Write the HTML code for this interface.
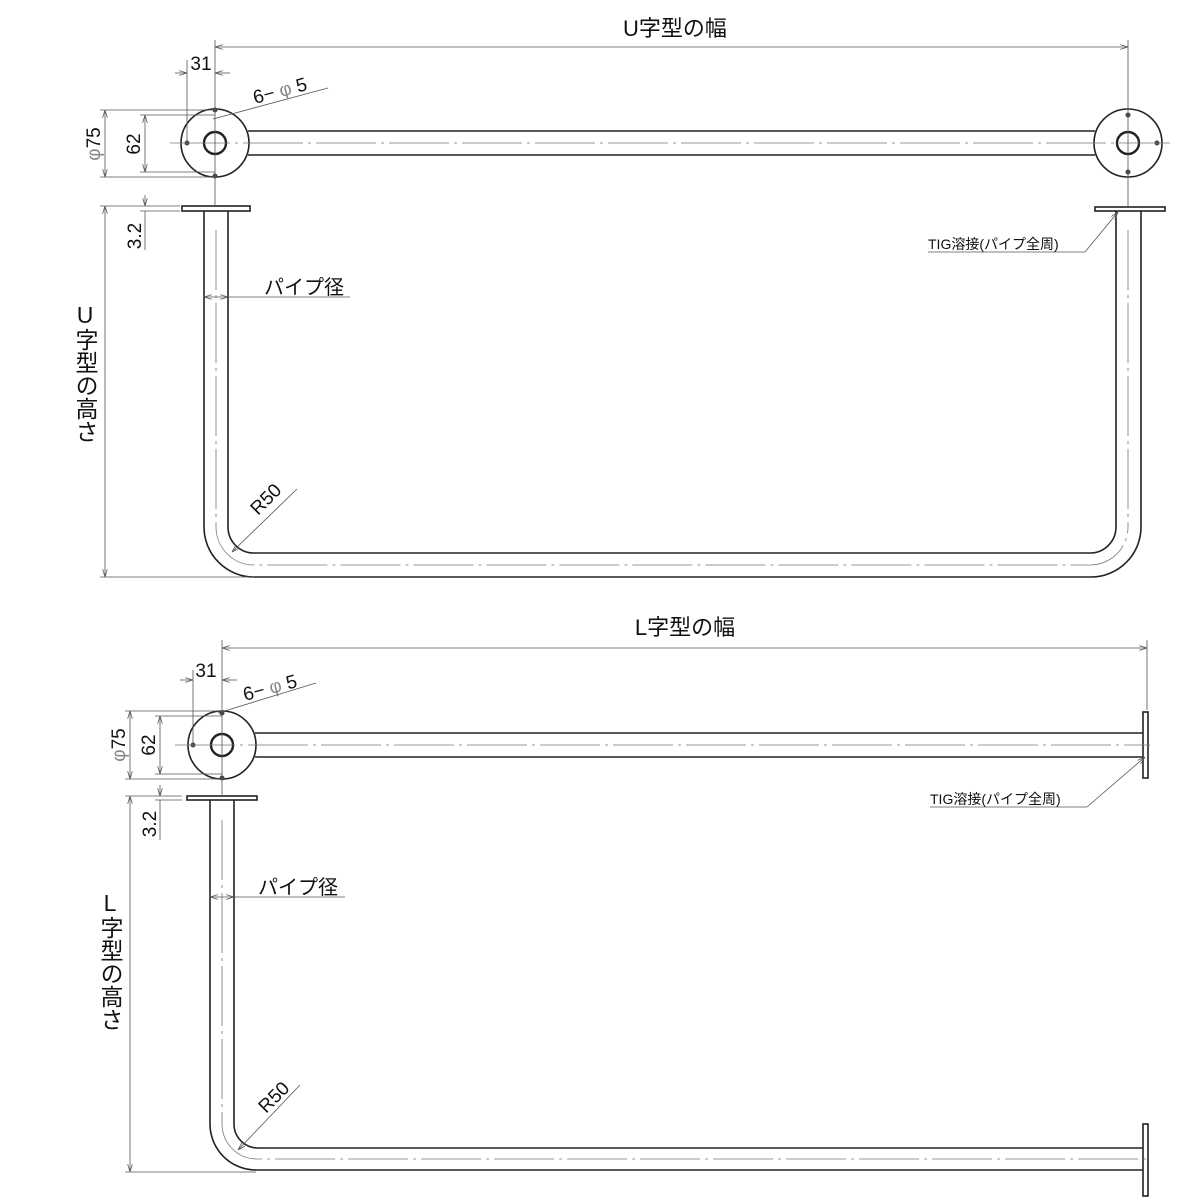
<!DOCTYPE html>
<html><head><meta charset="utf-8"><style>
body{margin:0;background:#fff}
svg{display:block}
text{font-family:"Liberation Sans","Noto Sans CJK JP",sans-serif;fill:#111}
</style></head><body>
<svg width="1200" height="1200" viewBox="0 0 1200 1200" xmlns="http://www.w3.org/2000/svg">
<defs>
<marker id="a" viewBox="0 0 10 6" refX="10" refY="3" markerWidth="10" markerHeight="6" orient="auto-start-reverse"><path d="M0,0 L10,3 L0,6" fill="none" stroke="#555" stroke-width="1"/></marker>
</defs>
<g fill="none" stroke="#222" stroke-width="1.6">
<circle cx="215" cy="143" r="34"/><circle cx="215" cy="143" r="11" stroke-width="2.4"/>
<circle cx="1128" cy="143" r="34"/><circle cx="1128" cy="143" r="11" stroke-width="2.4"/>
<line x1="248" y1="131" x2="1095" y2="131"/><line x1="248" y1="155" x2="1095" y2="155"/>
<rect x="182" y="206" width="68" height="5"/>
<rect x="1095" y="207" width="70" height="4"/>
<path d="M204 211 V527 A50 50 0 0 0 254 577 H1091 A50 50 0 0 0 1141 527 V211"/>
<path d="M228 211 V527 A26 26 0 0 0 254 553 H1091 A26 26 0 0 0 1116 527 V211"/>
<circle cx="222" cy="745" r="34"/><circle cx="222" cy="745" r="11" stroke-width="2.4"/>
<line x1="255" y1="733" x2="1143" y2="733"/><line x1="255" y1="757" x2="1143" y2="757"/>
<rect x="1143" y="712" width="5" height="66"/>
<rect x="187" y="796" width="70" height="4"/>
<path d="M210 800 V1124 A46 46 0 0 0 256 1170 H1143"/>
<path d="M234 800 V1124 A24 24 0 0 0 258 1148 H1143"/>
<rect x="1143" y="1124" width="5" height="72"/>
</g>
<g fill="#444">
<circle cx="215" cy="110" r="2.5"/><circle cx="215" cy="176" r="2.5"/><circle cx="187" cy="143" r="2.5"/>
<circle cx="1128" cy="115" r="2.5"/><circle cx="1128" cy="172" r="2.5"/><circle cx="1157" cy="143" r="2.5"/>
<circle cx="222" cy="713" r="2.5"/><circle cx="222" cy="778" r="2.5"/><circle cx="193" cy="745" r="2.5"/>
</g>
<g stroke="#777" stroke-width="0.8" fill="none" stroke-dasharray="60,5,3,5">
<line x1="170" y1="143" x2="1170" y2="143"/>
<line x1="216" y1="230" x2="216" y2="527"/><line x1="1128" y1="230" x2="1128" y2="527"/>
<path d="M216 527 A38 38 0 0 0 254 565 H1091 A38 38 0 0 0 1128 527"/>
<line x1="175" y1="745" x2="1150" y2="745"/>
<line x1="222" y1="820" x2="222" y2="1124"/>
<path d="M222 1124 A35 35 0 0 0 257 1159 H1150"/>
</g>
<g stroke="#555" stroke-width="0.8" fill="none">
<line x1="215" y1="40" x2="215" y2="206"/><line x1="1128" y1="40" x2="1128" y2="206"/>
<line x1="222" y1="640" x2="222" y2="796"/><line x1="1147" y1="640" x2="1147" y2="710"/>
<line x1="215" y1="47" x2="1128" y2="47" marker-start="url(#a)" marker-end="url(#a)"/>
<line x1="187" y1="60" x2="187" y2="143"/>
<line x1="175" y1="73" x2="187" y2="73" marker-end="url(#a)"/><line x1="215" y1="73" x2="230" y2="73" marker-start="url(#a)"/>
<line x1="213" y1="119" x2="328" y2="88"/>
<line x1="100" y1="110" x2="215" y2="110"/><line x1="100" y1="177" x2="215" y2="177"/>
<line x1="105" y1="110" x2="105" y2="177" marker-start="url(#a)" marker-end="url(#a)"/>
<line x1="140" y1="115" x2="215" y2="115"/><line x1="140" y1="172" x2="215" y2="172"/>
<line x1="145" y1="115" x2="145" y2="172" marker-start="url(#a)" marker-end="url(#a)"/>
<line x1="100" y1="206" x2="180" y2="206"/><line x1="140" y1="211" x2="180" y2="211"/>
<line x1="145" y1="195" x2="145" y2="206" marker-end="url(#a)"/><line x1="145" y1="211" x2="145" y2="250"/>
<line x1="100" y1="577" x2="254" y2="577"/>
<line x1="105" y1="206" x2="105" y2="577" marker-start="url(#a)" marker-end="url(#a)"/>
<line x1="204" y1="297" x2="228" y2="297" marker-start="url(#a)" marker-end="url(#a)"/><line x1="228" y1="297" x2="350" y2="297"/>
<line x1="232" y1="552" x2="297" y2="489" marker-start="url(#a)"/>
<line x1="928" y1="252" x2="1085" y2="252"/><line x1="1085" y1="252" x2="1118" y2="212" marker-end="url(#a)"/>
<line x1="222" y1="648" x2="1147" y2="648" marker-start="url(#a)" marker-end="url(#a)"/>
<line x1="193" y1="670" x2="193" y2="745"/>
<line x1="180" y1="680" x2="193" y2="680" marker-end="url(#a)"/><line x1="222" y1="680" x2="237" y2="680" marker-start="url(#a)"/>
<line x1="218" y1="713" x2="316" y2="683"/>
<line x1="125" y1="711" x2="222" y2="711"/><line x1="125" y1="779" x2="222" y2="779"/>
<line x1="130" y1="711" x2="130" y2="779" marker-start="url(#a)" marker-end="url(#a)"/>
<line x1="155" y1="716" x2="222" y2="716"/><line x1="155" y1="774" x2="222" y2="774"/>
<line x1="160" y1="716" x2="160" y2="774" marker-start="url(#a)" marker-end="url(#a)"/>
<line x1="125" y1="796" x2="182" y2="796"/><line x1="155" y1="800" x2="182" y2="800"/>
<line x1="160" y1="785" x2="160" y2="796" marker-end="url(#a)"/><line x1="160" y1="800" x2="160" y2="840"/>
<line x1="125" y1="1172" x2="256" y2="1172"/>
<line x1="130" y1="796" x2="130" y2="1172" marker-start="url(#a)" marker-end="url(#a)"/>
<line x1="210" y1="897" x2="234" y2="897" marker-start="url(#a)" marker-end="url(#a)"/><line x1="234" y1="897" x2="345" y2="897"/>
<line x1="238" y1="1150" x2="300" y2="1085" marker-start="url(#a)"/>
<line x1="930" y1="807" x2="1087" y2="807"/><line x1="1087" y1="807" x2="1145" y2="757" marker-end="url(#a)"/>
</g>
<g font-size="22">
<text x="675" y="36" text-anchor="middle">U字型の幅</text>
<text x="685" y="635" text-anchor="middle">L字型の幅</text>
<text x="201" y="70" text-anchor="middle" font-size="19">31</text>
<text x="206" y="677" text-anchor="middle" font-size="19">31</text>
<text x="255" y="104" font-size="19" transform="rotate(-15 255 104)">6− <tspan fill="#888">φ</tspan> 5</text>
<text x="245" y="701" font-size="19" transform="rotate(-15 245 701)">6− <tspan fill="#888">φ</tspan> 5</text>
<text transform="translate(100 144) rotate(-90)" text-anchor="middle" font-size="19"><tspan fill="#888">φ</tspan>75</text>
<text transform="translate(140 144) rotate(-90)" text-anchor="middle" font-size="19">62</text>
<text transform="translate(125 745) rotate(-90)" text-anchor="middle" font-size="19"><tspan fill="#888">φ</tspan>75</text>
<text transform="translate(155 745) rotate(-90)" text-anchor="middle" font-size="19">62</text>
<text transform="translate(141 236) rotate(-90)" text-anchor="middle" font-size="19">3.2</text>
<text transform="translate(156 824) rotate(-90)" text-anchor="middle" font-size="19">3.2</text>
<text x="264" y="294" font-size="20">パイプ径</text>
<text x="258" y="894" font-size="20">パイプ径</text>
<text transform="translate(258 516) rotate(-45)" font-size="19">R50</text>
<text transform="translate(266 1114) rotate(-45)" font-size="19">R50</text>
<text x="928" y="249" font-size="14">TIG溶接(パイプ全周)</text>
<text x="930" y="804" font-size="14">TIG溶接(パイプ全周)</text>
<text x="85" y="302" style="writing-mode:vertical-rl;text-orientation:upright" font-size="23">U字型の高さ</text>
<text x="110" y="890" style="writing-mode:vertical-rl;text-orientation:upright" font-size="23">L字型の高さ</text>
</g>
</svg>
</body></html>
